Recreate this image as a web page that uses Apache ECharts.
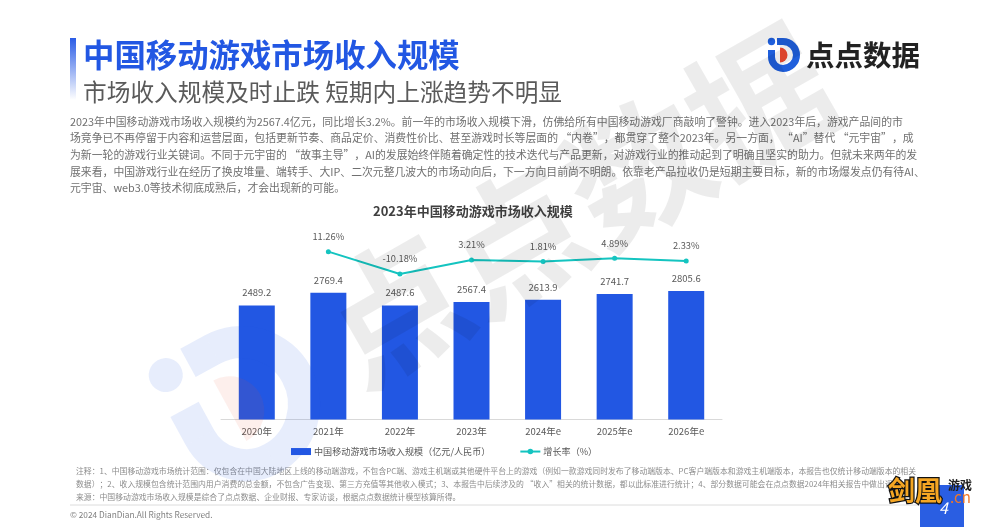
<!DOCTYPE html>
<html><head><meta charset="utf-8">
<style>html,body{margin:0;padding:0;background:#fff}#c{width:1000px;height:532px}</style>
<script src="https://cdn.jsdelivr.net/npm/echarts@6/dist/echarts.min.js"></script>
</head><body><div id="c"></div>
<script>
const categories = ['2020年','2021年','2022年','2023年','2024年e','2025年e','2026年e'];
const revenue = [2489.2,2769.4,2487.6,2567.4,2613.9,2741.7,2805.6];
const growth = [null,11.26,-10.18,3.21,1.81,4.89,2.33];
const chartTitle = '2023年中国移动游戏市场收入规模';
const barName = '中国移动游戏市场收入规模（亿元/人民币）';
const lineName = '增长率（%）';
const bodyLines = [
'2023年中国移动游戏市场收入规模约为2567.4亿元，同比增长3.2%。前一年的市场收入规模下滑，仿佛给所有中国移动游戏厂商敲响了警钟。进入2023年后，游戏产品间的市',
'场竞争已不再停留于内容和运营层面，包括更新节奏、商品定价、消费性价比、甚至游戏时长等层面的 “内卷”，都贯穿了整个2023年。另一方面， “AI”替代 “元宇宙”，成',
'为新一轮的游戏行业关键词。不同于元宇宙的 “故事主导”，AI的发展始终伴随着确定性的技术迭代与产品更新，对游戏行业的推动起到了明确且坚实的助力。但就未来两年的发',
'展来看，中国游戏行业在经历了换皮堆量、端转手、大IP、二次元整几波大的市场动向后，下一方向目前尚不明朗。依靠老产品拉收仍是短期主要目标，新的市场爆发点仍有待AI、',
'元宇宙、web3.0等技术彻底成熟后，才会出现新的可能。'];
const noteLines = [
'注释：1、中国移动游戏市场统计范围：仅包含在中国大陆地区上线的移动端游戏，不包含PC端、游戏主机端或其他硬件平台上的游戏（例如一款游戏同时发布了移动端版本、PC客户端版本和游戏主机端版本，本报告也仅统计移动端版本的相关',
'数据）；2、收入规模包含统计范围内用户消费的总金额，不包含广告变现、第三方充值等其他收入模式；3、本报告中后续涉及的 “收入”相关的统计数据，都以此标准进行统计；4、部分数据可能会在点点数据2024年相关报告中做出调整',
'来源：中国移动游戏市场收入规模是综合了点点数据、企业财报、专家访谈，根据点点数据统计模型核算所得。'];
const FF = '"Noto Sans CJK SC","Noto Sans",sans-serif';
const BLUE = '#2257e3';
function txt(x,y,text,size,fill,extra,z){
  return {type:'text',x,y,silent:true,z:z||5,style:Object.assign({text,fontSize:size,fill,fontFamily:FF,verticalAlign:'middle'},extra||{})};
}
function logo(x,y,scale,rotation,main,accent,z){
  const sk = {stroke:main,lineWidth:7,fill:null,lineCap:'butt'};
  return {type:'group',x,y,scaleX:scale,scaleY:scale,rotation,silent:true,z,children:[
    {type:'arc',z,shape:{cx:-1,cy:0,r:13.5,startAngle:-Math.PI/2,endAngle:Math.PI/2},style:sk},
    {type:'arc',z,shape:{cx:-1,cy:2,r:11.5,startAngle:Math.PI/2,endAngle:Math.PI},style:sk},
    {type:'line',z,shape:{x1:-12.5,y1:2,x2:-12.5,y2:-5},style:sk},
    {type:'line',z,shape:{x1:-7,y1:-13.5,x2:-1,y2:-13.5},style:sk},
    {type:'circle',z,shape:{cx:-12.5,cy:-13.5,r:3.7},style:{fill:main}},
    {type:'sector',z,shape:{cx:-4,cy:0,r:7.5,startAngle:-Math.PI/2,endAngle:Math.PI/2},style:{fill:accent}}
  ]};
}
const gfx = [];
// watermark, laid over everything with low alpha as in the reference
gfx.push({type:'text',x:577,y:205,rotation:0.52,silent:true,z:100,
  style:{text:'点点数据',fontSize:140,fontWeight:'bold',fontFamily:FF,fill:'rgba(0,0,0,0.075)',align:'center',verticalAlign:'middle'}});
gfx.push(logo(246,402,4.6,0.5,'rgba(34,87,227,0.11)','rgba(238,74,48,0.09)',100));
// header
gfx.push({type:'rect',shape:{x:70,y:38,width:6,height:62},silent:true,
  style:{fill:{type:'linear',x:0,y:0,x2:0,y2:1,colorStops:[{offset:0,color:'#2a5ce6'},{offset:1,color:'#ffffff'}]}}});
gfx.push(txt(83,55,'中国移动游戏市场收入规模',31.4,BLUE,{fontWeight:'bold'}));
gfx.push(txt(83,92,'市场收入规模及时止跌 短期内上涨趋势不明显',23.7,'#5a5a5a'));
// logo
gfx.push(logo(784,55,1,0,'#1f5fdc','#ee4a30',6));
gfx.push(txt(806,55,'点点数据',28.5,'#222222',{fontWeight:'bold'}));
// body
bodyLines.forEach((t,i)=>gfx.push(txt(70,121.7+i*16.6,t,10.85,'#707070')));
// notes
noteLines.forEach((t,i)=>gfx.push(txt(76,471+i*13,t,7.85,'#8c8c8c')));
gfx.push({type:'line',shape:{x1:70,y1:505,x2:930,y2:505},silent:true,style:{stroke:'#dcdcdc',lineWidth:1}});
gfx.push(txt(70,515,'© 2024 DianDian.All Rights Reserved.',8.3,'#808080'));
// page block
gfx.push({type:'rect',shape:{x:920,y:485,width:44,height:42},silent:true,z:6,style:{fill:'#2a5ee2'}});
gfx.push(txt(939,508,'4',16,'#ffffff',{fontStyle:'italic'},7));
gfx.push(txt(888,491,'剑凰',27,'#f5a623',{fontWeight:'bold',stroke:'#111',lineWidth:2.5},8));
gfx.push(txt(948,485,'游戏',12,'#222222',{fontWeight:'bold'},8));
gfx.push(txt(950,497,'.cn',15,'#f07828',null,8));

const chart = echarts.init(document.getElementById('c'));
chart.setOption({
  animation:false,
  backgroundColor:'#fff',
  textStyle:{fontFamily:FF},
  title:{text:chartTitle,left:373,top:205,padding:0,textStyle:{fontSize:13,fontWeight:'bold',color:'#404040',fontFamily:FF}},
  legend:{left:291,top:447,padding:0,itemGap:29,itemWidth:20,itemHeight:7,textStyle:{fontSize:9.1,color:'#595959',fontFamily:FF,padding:[0,0,0,-2]},
    data:[{name:barName,icon:'rect'},{name:lineName}]},
  grid:{left:221,width:501,top:190.5,height:229,containLabel:false},
  xAxis:{type:'category',data:categories,axisTick:{show:false},axisLine:{lineStyle:{color:'#d9d9d9',width:1}},
    axisLabel:{fontSize:9.5,color:'#595959',margin:7,fontFamily:FF}},
  yAxis:[
    {type:'value',min:0,max:5000,show:false,splitLine:{show:false}},
    {type:'value',min:-150,max:70,show:false,splitLine:{show:false}}
  ],
  graphic:gfx,
  series:[
    {name:barName,type:'bar',data:revenue,barWidth:36,itemStyle:{color:'#2257e3'},
      label:{show:true,position:'top',distance:8,fontSize:9.5,color:'#595959',formatter:p=>p.value.toFixed(1),fontFamily:FF}},
    {name:lineName,type:'line',yAxisIndex:1,data:growth,symbol:'circle',symbolSize:5,connectNulls:false,
      lineStyle:{color:'#14c4c0',width:2},itemStyle:{color:'#14c4c0'},
      label:{show:true,position:'top',distance:8,fontSize:9.3,color:'#595959',formatter:p=>p.value.toFixed(2)+'%',fontFamily:FF}}
  ]
});
</script></body></html>
